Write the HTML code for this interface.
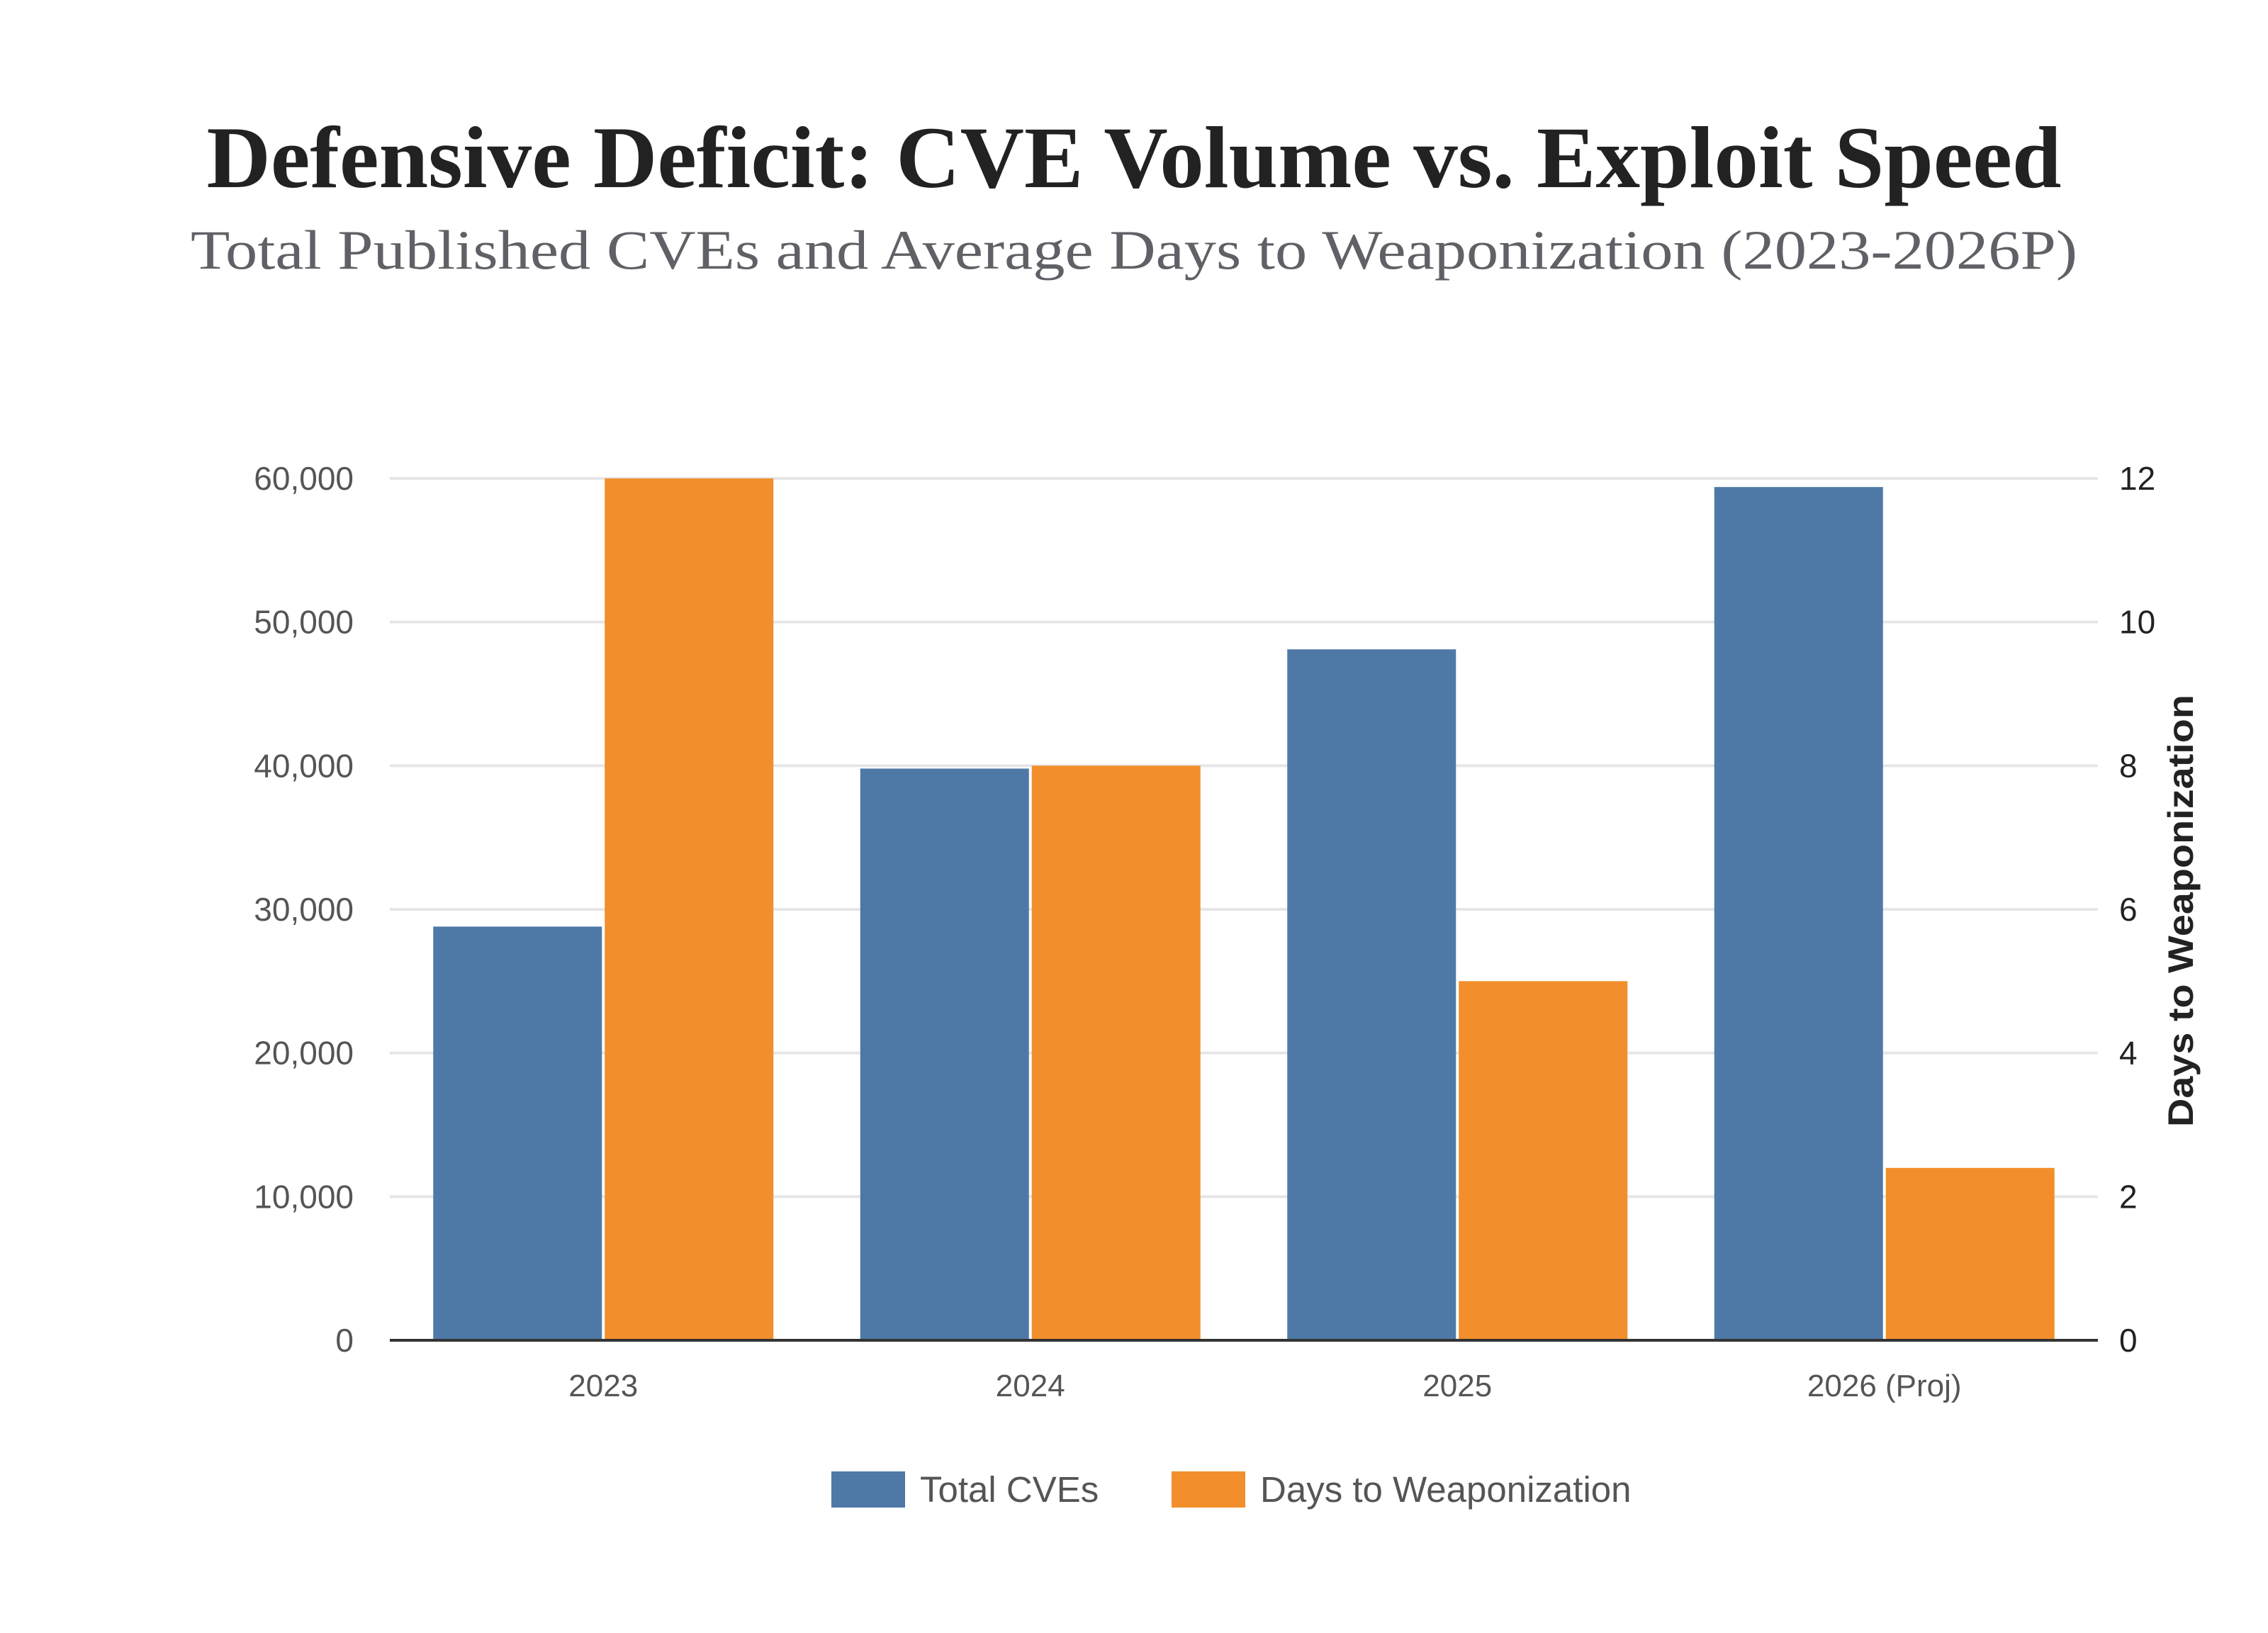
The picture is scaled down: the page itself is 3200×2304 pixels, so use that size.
<!DOCTYPE html>
<html><head><meta charset="utf-8"><style>
html,body{margin:0;padding:0;background:#fff;}
svg{display:block;}
</style></head><body>
<svg id="chart" width="3200" height="2304" viewBox="0 0 3200 2304" xmlns="http://www.w3.org/2000/svg">
<rect width="3200" height="2304" fill="#fff"/>
<text x="1600" y="264" text-anchor="middle" font-family="Liberation Serif, serif" font-weight="bold" font-size="124" fill="#222" textLength="2617" lengthAdjust="spacingAndGlyphs">Defensive Deficit: CVE Volume vs. Exploit Speed</text>
<text x="1600" y="379" text-anchor="middle" font-family="Liberation Serif, serif" font-size="78" fill="#5f6166" textLength="2662" lengthAdjust="spacingAndGlyphs">Total Published CVEs and Average Days to Weaponization (2023-2026P)</text>
<g id="grid"></g>
<g id="bars"></g>
<g id="axes"></g>
<text transform="translate(3094,1285) rotate(-90)" text-anchor="middle" font-family="Liberation Sans, sans-serif" font-weight="bold" font-size="50" fill="#222" textLength="610" lengthAdjust="spacingAndGlyphs">Days to Weaponization</text>
<g>
<rect x="1173" y="2076" width="104" height="51" fill="#4e79a7"/>
<text x="1298" y="2119" font-family="Liberation Sans, sans-serif" font-size="51" fill="#555">Total CVEs</text>
<rect x="1653" y="2076" width="104" height="51" fill="#f28e2b"/>
<text x="1778" y="2119" font-family="Liberation Sans, sans-serif" font-size="51" fill="#555">Days to Weaponization</text>
</g>
</svg>
<script>
const categories = ["2023", "2024", "2025", "2026 (Proj)"];
const totalCves = [28800, 39800, 48100, 59400];
const daysToWeapon = [12, 8, 5, 2.4];
const leftTicks = [0, 10000, 20000, 30000, 40000, 50000, 60000];
const rightTicks = [0, 2, 4, 6, 8, 10, 12];

const NS = "http://www.w3.org/2000/svg";
const X0 = 550, X1 = 2960, Y0 = 1891, Y1 = 675;
const leftMax = 60000, rightMax = 12;
const yL = v => Y0 - (v / leftMax) * (Y0 - Y1);
const yR = v => Y0 - (v / rightMax) * (Y0 - Y1);
const bandW = (X1 - X0) / categories.length;
const xC = i => X0 + bandW * (i + 0.5);
const barW = 238, gap = 4;

function mk(tag, attrs, parent) {
  const el = document.createElementNS(NS, tag);
  for (const k in attrs) el.setAttribute(k, attrs[k]);
  parent.appendChild(el);
  return el;
}
const grid = document.getElementById('grid');
const bars = document.getElementById('bars');
const axes = document.getElementById('axes');

leftTicks.forEach((t, i) => {
  if (t !== 0) {
    const g = mk('line', {x1: X0, x2: X1, y1: yL(t), y2: yL(t), stroke: '#e6e6e6', 'stroke-width': 4}, grid);
    
    
  }
  const l = mk('text', {x: 499, y: yL(t) + 16, 'text-anchor': 'end', 'font-family': 'Liberation Sans, sans-serif', 'font-size': 46, fill: '#555'}, axes);
  l.textContent = t.toLocaleString('en-US');
  
  
});
rightTicks.forEach(t => {
  const l = mk('text', {x: 2990, y: yR(t) + 16, 'text-anchor': 'start', 'font-family': 'Liberation Sans, sans-serif', 'font-size': 46, fill: '#222'}, axes);
  l.textContent = String(t);
  
  
});
categories.forEach((c, i) => {
  const b1 = mk('rect', {x: xC(i) - barW - gap / 2, y: yL(totalCves[i]), width: barW, height: Y0 - yL(totalCves[i]), fill: '#4e79a7'}, bars);
  
  
  const b2 = mk('rect', {x: xC(i) + gap / 2, y: yR(daysToWeapon[i]), width: barW, height: Y0 - yR(daysToWeapon[i]), fill: '#f28e2b'}, bars);
  
  
  const l = mk('text', {x: xC(i), y: 1970, 'text-anchor': 'middle', 'font-family': 'Liberation Sans, sans-serif', 'font-size': 44, fill: '#555'}, axes);
  l.textContent = c;
  
  
});
const ax = mk('line', {x1: X0, x2: X1, y1: Y0, y2: Y0, stroke: '#333', 'stroke-width': 4}, axes);


</script>
</body></html>
